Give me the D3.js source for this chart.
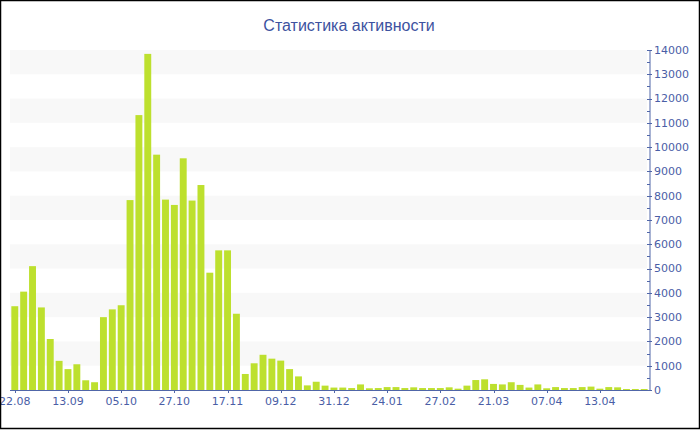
<!DOCTYPE html>
<html>
<head>
<meta charset="utf-8">
<script src="https://cdn.jsdelivr.net/npm/d3@7"></script>
<style>
  body { margin: 0; background: #fff; }
  svg { display: block; }
</style>
</head>
<body>
<div id="chart"></div>
<script>
// activity per period
const values = [
  3450, 4050, 5100, 3400, 2100, 1200, 860, 1060, 400, 320,
  3000, 3320, 3490, 7820, 11320, 13840, 9690, 7840, 7620, 9540,
  7800, 8440, 4830, 5750, 5750, 3140, 660, 1100, 1450, 1290,
  1210, 860, 560, 190, 340, 180, 100, 100, 80, 230,
  70, 80, 120, 120, 80, 110, 80, 80, 80, 110,
  55, 180, 410, 440, 250, 230, 320, 210, 100, 230,
  70, 120, 80, 80, 120, 140, 55, 120, 110, 40,
  40, 40
];
// label shown under every 6th bar
const tickLabels = ["22.08", "13.09", "05.10", "27.10", "17.11", "09.12",
                    "31.12", "24.01", "27.02", "21.03", "07.04", "13.04"];
const labelStep = 6;
const yTicks = d3.range(0, 14001, 1000);

const width = 700, height = 430;
const plot = { left: 10, right: 649, top: 50, bottom: 390 };
const axisColor = "#5066a8", textColor = "#4a5ea6";

const svg = d3.select("#chart").append("svg")
    .attr("width", width)
    .attr("height", height);

const x = d3.scaleBand()
    .domain(d3.range(values.length))
    .range([plot.left, plot.right])
    .paddingInner(0.22)
    .paddingOuter(0.15);

const y = d3.scaleLinear()
    .domain([0, 14000])
    .range([plot.bottom, plot.top]);

// alternating bands
svg.append("g").selectAll("rect")
    .data(yTicks.filter(d => d % 2000 === 0 && d > 0))
    .join("rect")
      .attr("x", plot.left)
      .attr("width", 637)
      .attr("y", d => y(d))
      .attr("height", d => y(d - 1000) - y(d))
      .attr("fill", "#f8f8f8");

// bars
svg.append("g").selectAll("rect")
    .data(values)
    .join("rect")
      .attr("x", (d, i) => x(i))
      .attr("width", x.bandwidth())
      .attr("y", d => y(d))
      .attr("height", d => y(0) - y(d))
      .attr("fill", "#bde02e");

// y axis on the right
const yAxis = svg.append("g").attr("transform", `translate(${plot.right + 1},0)`);
yAxis.append("line")
    .attr("y1", y(14000)).attr("y2", y(0))
    .attr("stroke", axisColor);
yAxis.selectAll(".minor")
    .data(d3.range(500, 14000, 1000))
    .join("line")
      .attr("x1", -3).attr("x2", 0)
      .attr("y1", d => Math.round(y(d)) + 0.5).attr("y2", d => Math.round(y(d)) + 0.5)
      .attr("stroke", axisColor);
yAxis.selectAll(".major")
    .data(yTicks)
    .join("line")
      .attr("x1", -3).attr("x2", 2)
      .attr("y1", d => Math.round(y(d)) + 0.5).attr("y2", d => Math.round(y(d)) + 0.5)
      .attr("stroke", axisColor);
yAxis.selectAll("text")
    .data(yTicks)
    .join("text")
      .attr("x", 4)
      .attr("y", d => y(d))
      .attr("dy", "0.35em")
      .attr("fill", textColor)
      .style("font", "11px 'DejaVu Sans', sans-serif")
      .text(d => d);

// x axis
const xAxis = svg.append("g");
xAxis.append("line")
    .attr("x1", plot.left).attr("x2", plot.right + 1)
    .attr("y1", plot.bottom + 0.5).attr("y2", plot.bottom + 0.5)
    .attr("stroke", axisColor);
const labelled = tickLabels.map((t, k) => ({ i: k * labelStep, t }));
xAxis.selectAll("line.tick")
    .data(labelled)
    .join("line")
      .attr("class", "tick")
      .attr("x1", d => Math.round(x(d.i) + x.bandwidth() / 2) + 0.5)
      .attr("x2", d => Math.round(x(d.i) + x.bandwidth() / 2) + 0.5)
      .attr("y1", plot.bottom).attr("y2", plot.bottom + 3)
      .attr("stroke", axisColor);
xAxis.selectAll("text")
    .data(labelled)
    .join("text")
      .attr("x", d => x(d.i) + x.bandwidth() / 2)
      .attr("y", 405)
      .attr("text-anchor", "middle")
      .attr("fill", textColor)
      .style("font", "11px 'DejaVu Sans', sans-serif")
      .text(d => d.t);

// title
svg.append("text")
    .attr("x", 349)
    .attr("y", 31)
    .attr("text-anchor", "middle")
    .attr("fill", "#3d52a0")
    .style("font", "16px 'Liberation Sans', sans-serif")
    .text("Статистика активности");

// frame
svg.append("rect")
    .attr("x", 0.5).attr("y", 0.5)
    .attr("width", 699).attr("height", 428)
    .attr("fill", "none")
    .attr("stroke", "#000")
    .attr("stroke-width", 1.5);
</script>
</body>
</html>
